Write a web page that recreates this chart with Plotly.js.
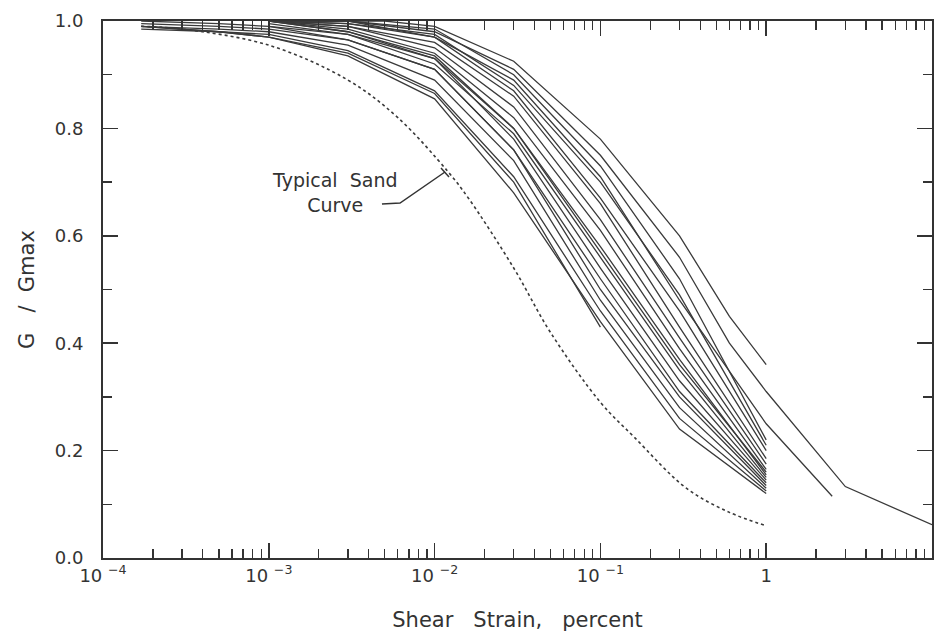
<!DOCTYPE html>
<html>
<head>
<meta charset="utf-8">
<script src="https://cdn.plot.ly/plotly-3.0.1.min.js"></script>
<style>html,body{margin:0;padding:0;background:#fff;}#chart{width:940px;height:637px;}</style>
</head>
<body>
<div id="chart"></div>
<script>
// ---- Data (shear strain in percent, G/Gmax) ----
const strainStd   = [0.001, 0.003, 0.01, 0.03, 0.1, 0.3, 1];
const strainEarly = [0.00017, 0.0005, 0.001, 0.003, 0.01, 0.03, 0.1, 0.3, 1];
const strainShort = [0.00017, 0.0005, 0.001, 0.003, 0.01, 0.03, 0.1];
const strainTop   = [0.002, 0.005, 0.01, 0.03, 0.1, 0.3, 0.6, 1];
const strainTo10  = [0.001, 0.003, 0.01, 0.03, 0.1, 0.3, 0.6, 1, 3, 10];
const strainTo25  = [0.001, 0.003, 0.01, 0.03, 0.1, 0.3, 1, 2.5];

const gTop  = [1.0, 1.0, 0.99, 0.925, 0.78, 0.60, 0.45, 0.36];
const gTo10 = [1.0, 1.0, 0.98, 0.91, 0.75, 0.56, 0.40, 0.31, 0.133, 0.062];
const gTo25 = [1.0, 0.995, 0.97, 0.89, 0.71, 0.48, 0.25, 0.115];

const g01 = [1.0, 1.0, 0.985, 0.90, 0.73, 0.52, 0.22];
const g02 = [1.0, 0.995, 0.975, 0.88, 0.70, 0.49, 0.21];
const g03 = [1.0, 1.0, 0.97, 0.87, 0.67, 0.46, 0.20];
const g04 = [1.0, 0.99, 0.96, 0.86, 0.66, 0.43, 0.185];
const g05 = [1.0, 0.99, 0.95, 0.84, 0.63, 0.41, 0.175];
const g06 = [1.0, 0.985, 0.94, 0.82, 0.61, 0.39, 0.165];
const g07 = [1.0, 0.98, 0.935, 0.80, 0.58, 0.37, 0.155];
const g08 = [0.995, 0.975, 0.92, 0.79, 0.56, 0.35, 0.15];
const g09 = [1.0, 0.98, 0.93, 0.78, 0.54, 0.33, 0.145];
const g10 = [0.99, 0.965, 0.91, 0.76, 0.52, 0.31, 0.14];

const e1 = [1.0, 0.995, 0.99, 0.975, 0.93, 0.80, 0.57, 0.36, 0.16];
const e2 = [0.995, 0.99, 0.985, 0.965, 0.91, 0.76, 0.50, 0.30, 0.135];
const e3 = [0.99, 0.985, 0.98, 0.955, 0.89, 0.74, 0.48, 0.28, 0.13];
const e4 = [0.99, 0.98, 0.975, 0.945, 0.87, 0.71, 0.46, 0.26, 0.125];
const e5 = [0.985, 0.98, 0.97, 0.935, 0.855, 0.68, 0.44, 0.24, 0.12];
const gShort = [0.99, 0.98, 0.97, 0.94, 0.865, 0.70, 0.43];

const sandStrain = [0.00017, 0.0003, 0.001, 0.003, 0.006, 0.012, 0.016, 0.03, 0.05, 0.1, 0.16, 0.33, 0.6, 1];
const sandRatio  = [0.99, 0.985, 0.955, 0.89, 0.82, 0.72, 0.67, 0.54, 0.42, 0.29, 0.225, 0.13, 0.085, 0.06];

const xTickVals = [0.0001, 0.001, 0.01, 0.1, 1, 10];
const xTickText = ['10 <sup>−4</sup>', '10 <sup>−3</sup>', '10 <sup>−2</sup>', '10 <sup>−1</sup>', '1', '10'];
const yTickVals = [0, 0.2, 0.4, 0.6, 0.8, 1.0];
const yTickText = ['0.0', '0.2', '0.4', '0.6', '0.8', '1.0'];

// ---- Build traces ----
const solidSets = [
  [strainTop, gTop], [strainTo10, gTo10], [strainTo25, gTo25],
  [strainStd, g01], [strainStd, g02], [strainStd, g03], [strainStd, g04], [strainStd, g05],
  [strainStd, g06], [strainStd, g07], [strainStd, g08], [strainStd, g09], [strainStd, g10],
  [strainEarly, e1], [strainEarly, e2], [strainEarly, e3], [strainEarly, e4], [strainEarly, e5],
  [strainShort, gShort]
];
const lineColor = '#3a3a3a';
const traces = solidSets.map(function (s) {
  return { x: s[0], y: s[1], type: 'scatter', mode: 'lines',
           line: { color: lineColor, width: 1.3 }, hoverinfo: 'skip', showlegend: false };
});
traces.push({ x: sandStrain, y: sandRatio, type: 'scatter', mode: 'lines',
              line: { color: lineColor, width: 1.6, dash: '3px,3px', shape: 'spline' },
              hoverinfo: 'skip', showlegend: false });

// minor tick positions
const xMinor = [];
for (let d = -4; d < 1; d++) { for (let k = 2; k <= 9; k++) xMinor.push(k * Math.pow(10, d)); }

const fontFam = 'DejaVu Sans, Arial, sans-serif';
const axColor = '#333';
const sp = '\u00a0';

const layout = {
  width: 940, height: 637,
  margin: { l: 103, r: 8, t: 21, b: 79 },
  paper_bgcolor: '#fff', plot_bgcolor: '#fff',
  font: { family: fontFam, color: axColor },
  showlegend: false,
  xaxis: {
    type: 'log', range: [-4, 1],
    tickvals: xTickVals, ticktext: xTickText,
    ticks: 'inside', ticklen: 15, tickwidth: 1.5, tickcolor: axColor,
    showline: true, linecolor: axColor, linewidth: 2, mirror: 'ticks',
    showgrid: false, zeroline: false,
    tickfont: { family: fontFam, size: 18, color: axColor },
    minor: { tickvals: xMinor, ticks: 'inside', ticklen: 9, tickwidth: 1.3, tickcolor: axColor, showgrid: false },
    title: { text: 'Shear' + sp + sp + sp + 'Strain,' + sp + sp + sp + 'percent', font: { family: fontFam, size: 21, color: axColor }, standoff: 28 }
  },
  yaxis: {
    range: [0, 1],
    tickvals: yTickVals, ticktext: yTickText,
    ticks: 'inside', ticklen: 15, tickwidth: 1.5, tickcolor: axColor,
    showline: true, linecolor: axColor, linewidth: 2, mirror: 'ticks',
    showgrid: false, zeroline: false, ticklabelstandoff: 14,
    tickfont: { family: fontFam, size: 18, color: axColor },
    minor: { dtick: 0.1, ticks: 'inside', ticklen: 9, tickwidth: 1.3, tickcolor: axColor, showgrid: false },
    title: { text: 'G' + sp + sp + sp + '/' + sp + sp + 'Gmax', font: { family: fontFam, size: 21, color: axColor }, standoff: 14 }
  },
  annotations: [{
    xref: 'paper', yref: 'paper', x: 0.2787, y: 0.6806, xanchor: 'center', yanchor: 'middle',
    text: 'Typical' + sp + sp + 'Sand<br>Curve', showarrow: false, align: 'center',
    font: { family: fontFam, size: 19, color: axColor }
  }],
  shapes: [
    { type: 'path', xref: 'paper', yref: 'paper',
      path: 'M 0.3365 0.659 L 0.3583 0.661 L 0.4125 0.7188',
      line: { color: axColor, width: 1.5 } },
    { type: 'line', xref: 'paper', yref: 'paper', x0: 0.4077, y0: 0.7263, x1: 0.4174, y1: 0.7095,
      line: { color: axColor, width: 1.5 } }
  ]
};

Plotly.newPlot('chart', traces, layout, { staticPlot: true, displayModeBar: false });
</script>
</body>
</html>
